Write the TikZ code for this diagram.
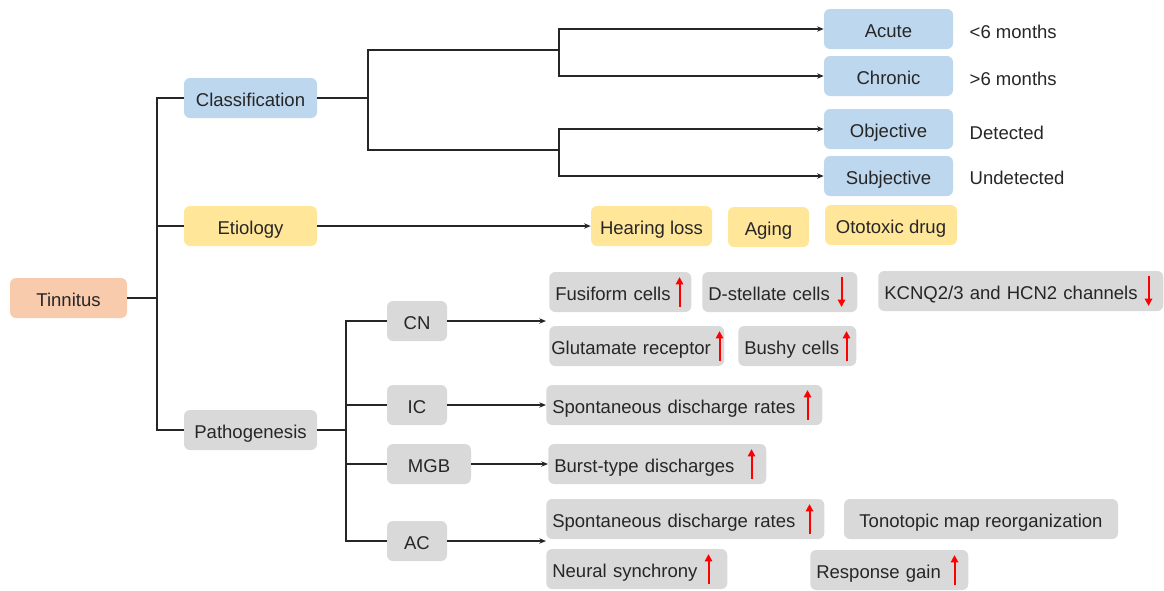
\documentclass[tikz,border=0pt]{standalone}
\usepackage{fontspec}
\setmainfont{Liberation Sans}
\usepackage{tikz}
\usetikzlibrary{arrows.meta}

\definecolor{BoxBlue}{HTML}{BDD7EE}
\definecolor{BoxYellow}{HTML}{FFE699}
\definecolor{BoxPeach}{HTML}{F8CBAD}
\definecolor{BoxGray}{HTML}{D9D9D9}
\definecolor{InkGray}{HTML}{262626}

\begin{document}
\begin{tikzpicture}[x=0.75pt,y=-0.75pt,
    font=\fontsize{13.9}{16}\selectfont,
    box/.style={rounded corners=4.5pt, minimum height=30pt, inner xsep=4.5pt,
        text height=12pt, text depth=0pt, text=InkGray},
    kind/.style={box, fill=BoxBlue, minimum width=96.75pt},
    cause/.style={box, fill=BoxYellow},
    part/.style={box, fill=BoxGray},
    change/.style={box, fill=BoxGray, anchor=west, align=left},
    note/.style={anchor=west, text height=12pt, text depth=0pt, text=InkGray},
    branch/.style={line width=1.2pt, draw=InkGray},
    feed/.style={line width=1pt, draw=InkGray, -{Stealth[length=5pt,width=4pt]}},
    rise/.style={draw=red, line width=1.5pt, -{Triangle[length=5.5pt,width=5.5pt]}}]
    \useasboundingbox (0,0) rectangle (1164,590);

    % root and first level
    \node[box, fill=BoxPeach, minimum width=87.75pt] (tin) at (68.5,298) {Tinnitus};
    \node[box, fill=BoxBlue, minimum width=99.75pt] (cls) at (250.5,98) {Classification};
    \node[cause, minimum width=99.75pt] (eti) at (250.5,226) {Etiology};
    \node[part, minimum width=99.75pt] (pat) at (250.5,430) {Pathogenesis};

    % classification
    \node[kind] (acu) at (888.5,29) {Acute};
    \node[kind] (chr) at (888.5,76) {Chronic};
    \node[kind] (obj) at (888.5,129) {Objective};
    \node[kind] (sub) at (888.5,176) {Subjective};
    \node[note] (acut) at (965,30) {<6 months};
    \node[note] (chrt) at (965,77) {>6 months};
    \node[note] (objt) at (965,131) {Detected};
    \node[note] (subt) at (965,176) {Undetected};

    % etiology
    \node[cause, minimum width=90.75pt] (hear) at (651.5,226) {Hearing loss};
    \node[cause, minimum width=60.75pt] (agi) at (768.5,227) {Aging};
    \node[cause, minimum width=99pt] (oto) at (891,225) {Ototoxic drug};

    % pathogenesis
    \node[part, minimum width=45pt] (cn) at (417,321) {CN};
    \node[part, minimum width=45pt] (ic) at (417,405) {IC};
    \node[part, minimum width=63pt] (mgb) at (429,464) {MGB};
    \node[part, minimum width=45pt] (ac) at (417,541) {AC};

    \node[change, text width=97.5pt] (fus) at (549,292) {Fusiform cells};
    \node[change, text width=107.25pt] (dst) at (702,292) {D-stellate cells};
    \node[change, text width=204.75pt] (kcn) at (878,291) {KCNQ2/3 and HCN2 channels};
    \node[change, text width=128.25pt, inner xsep=1.5pt] (glu) at (549,346) {Glutamate receptor};
    \node[change, text width=79.5pt] (bus) at (738,346) {Bushy cells};
    \node[change, text width=198pt] (icr) at (546,405) {Spontaneous discharge rates};
    \node[change, text width=154.5pt] (bur) at (548,464) {Burst-type discharges};
    \node[change, text width=199.5pt] (acr) at (546,519) {Spontaneous discharge rates};
    \node[part, minimum width=205.5pt] (ton) at (981,519) {Tonotopic map reorganization};
    \node[change, text width=126.75pt] (neu) at (546,569) {Neural synchrony};
    \node[change, text width=109.5pt] (res) at (810,570) {Response gain};

    % junctions
    \coordinate (tr) at (157,298);
    \coordinate (cj) at (368,98);
    \coordinate (dur) at (559,50);
    \coordinate (det) at (559,150);
    \coordinate (pj) at (346,430);
    \coordinate (cnt) at (546,321);
    \coordinate (act) at (546,541);

    % tree lines
    \draw[branch] (tin) -- (tr);
    \draw[branch] (cls) -| (tr) |- (pat);
    \draw[branch] (tr) |- (eti);
    \draw[branch] (cls) -- (cj);
    \draw[branch] (dur) -| (cj) |- (det);
    \draw[feed] (dur) |- (acu);
    \draw[feed] (dur) |- (chr);
    \draw[feed] (det) |- (obj);
    \draw[feed] (det) |- (sub);
    \draw[feed] (eti) -- (hear);
    \draw[branch] (pat) -- (pj);
    \draw[branch] (cn) -| (pj) |- (ac);
    \draw[branch] (pj) |- (ic);
    \draw[branch] (pj) |- (mgb);
    \draw[feed] (cn) -- (cnt);
    \draw[feed] (ic) -- (icr);
    \draw[feed] (mgb) -- (bur);
    \draw[feed] (ac) -- (act);

    % up and down marks
    \draw[rise] ([xshift=-9pt,yshift=4pt]fus.south east) -- ([xshift=-9pt,yshift=-4pt]fus.north east);
    \draw[rise] ([xshift=-12pt,yshift=-4pt]dst.north east) -- ([xshift=-12pt,yshift=4pt]dst.south east);
    \draw[rise] ([xshift=-11.25pt,yshift=-4pt]kcn.north east) -- ([xshift=-11.25pt,yshift=4pt]kcn.south east);
    \draw[rise] ([xshift=-3.75pt,yshift=4pt]glu.south east) -- ([xshift=-3.75pt,yshift=-4pt]glu.north east);
    \draw[rise] ([xshift=-7.5pt,yshift=4pt]bus.south east) -- ([xshift=-7.5pt,yshift=-4pt]bus.north east);
    \draw[rise] ([xshift=-11.25pt,yshift=4pt]icr.south east) -- ([xshift=-11.25pt,yshift=-4pt]icr.north east);
    \draw[rise] ([xshift=-11.25pt,yshift=4pt]bur.south east) -- ([xshift=-11.25pt,yshift=-4pt]bur.north east);
    \draw[rise] ([xshift=-11.25pt,yshift=4pt]acr.south east) -- ([xshift=-11.25pt,yshift=-4pt]acr.north east);
    \draw[rise] ([xshift=-14.25pt,yshift=4pt]neu.south east) -- ([xshift=-14.25pt,yshift=-4pt]neu.north east);
    \draw[rise] ([xshift=-10.5pt,yshift=4pt]res.south east) -- ([xshift=-10.5pt,yshift=-4pt]res.north east);
\end{tikzpicture}
\end{document}
